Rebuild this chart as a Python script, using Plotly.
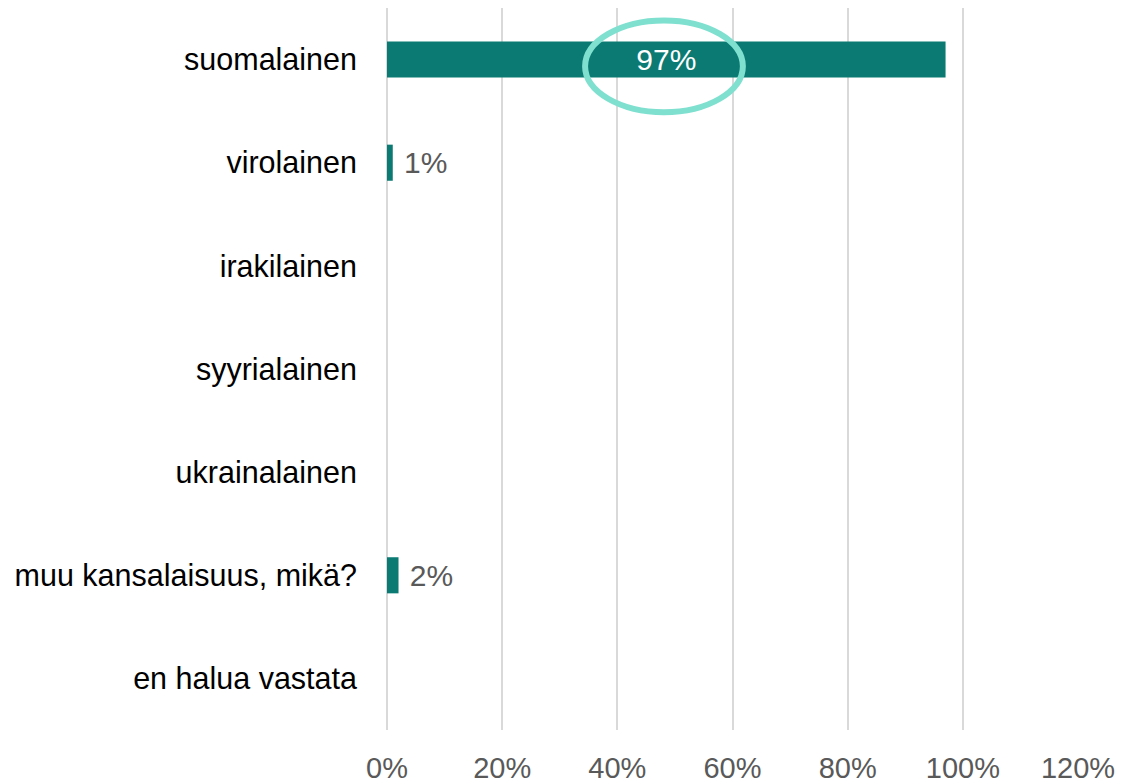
import plotly.graph_objects as go

categories = ["suomalainen", "virolainen", "irakilainen", "syyrialainen",
              "ukrainalainen", "muu kansalaisuus, mikä?", "en halua vastata"]
values = [97, 1, 0, 0, 0, 2, 0]
tick_vals = [0, 20, 40, 60, 80, 100, 120]
tick_text = ["0%", "20%", "40%", "60%", "80%", "100%", "120%"]

labels = [("" if v > 10 else "\u00a0") + f"{v}%" if v else "" for v in values]
positions = ["inside" if v > 10 else "outside" for v in values]
text_colors = ["white" if v > 10 else "#595959" for v in values]

fig = go.Figure(go.Bar(
    x=values, y=categories, orientation="h",
    marker=dict(color="#0B7A73", line=dict(width=0)),
    text=labels, textposition=positions,
    insidetextanchor="middle", constraintext="none",
    textfont=dict(family="Liberation Sans", size=30, color=text_colors),
    cliponaxis=False,
))

fig.add_shape(type="circle", xref="x", yref="y",
              x0=34.4, x1=61.8, y0=-0.38, y1=0.51,
              line=dict(color="#7FE0D0", width=6))

# page body has an 8px default margin, so the figure is sized to fit it
fig.update_layout(
    width=1116, height=775,
    margin=dict(l=379, r=46, t=0, b=53),
    plot_bgcolor="white", paper_bgcolor="white",
    bargap=0.65, showlegend=False,
    xaxis=dict(range=[0, 120], tickvals=tick_vals, ticktext=tick_text,
               showgrid=True, gridcolor="#D9D9D9", gridwidth=2,
               zeroline=True, zerolinecolor="#D9D9D9", zerolinewidth=2,
               showline=False, ticks="", automargin=False,
               ticklabelstandoff=18,
               tickfont=dict(family="Liberation Sans", size=29, color="#595959")),
    yaxis=dict(categoryorder="array", categoryarray=categories,
               autorange="reversed", showgrid=False, zeroline=False,
               showline=False, ticks="", ticklabelstandoff=29, automargin=False,
               tickfont=dict(family="Liberation Sans", size=30.5, color="#000000")),
)

fig.write_html("out.html")
